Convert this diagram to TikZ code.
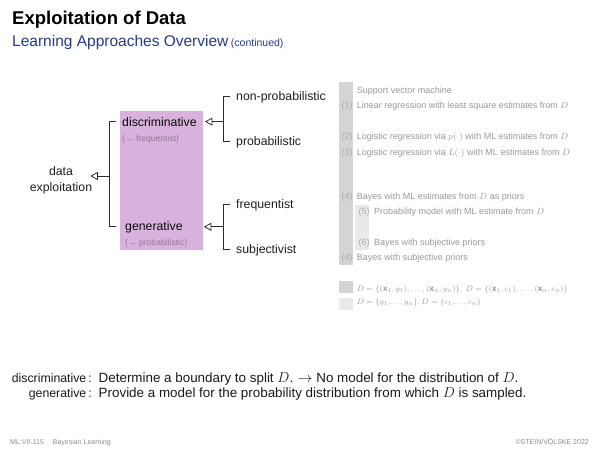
\documentclass[tikz,border=0pt]{standalone}
\usepackage{fontspec}
\setmainfont{Liberation Sans}
\usetikzlibrary{arrows.meta}
\definecolor{titleblue}{RGB}{40,56,138}
\definecolor{boxpurple}{RGB}{216,178,220}
\definecolor{greytext}{RGB}{152,152,152}
\definecolor{numgrey}{RGB}{172,172,172}
\definecolor{bardark}{RGB}{212,212,212}
\definecolor{barlight}{RGB}{233,233,233}
\definecolor{subpurple}{RGB}{150,118,152}
\definecolor{linecol}{RGB}{45,45,45}
\definecolor{foot}{RGB}{140,140,140}
\tikzset{
  lbl/.style={anchor=base west, inner sep=0pt, font=\fontsize{12.3}{14}\selectfont, text=black!88},
  sublbl/.style={anchor=base west, inner sep=0pt, font=\fontsize{8.6}{10}\selectfont, text=subpurple},
  item/.style={anchor=base west, inner sep=0pt, font=\fontsize{9}{10.8}\selectfont, text=greytext},
  legend/.style={anchor=base west, inner sep=0pt, font=\fontsize{8.3}{10}\selectfont, text=greytext},
  num/.style={anchor=base west, inner sep=0pt, font=\fontsize{9}{10.8}\selectfont, text=numgrey},
  conn/.style={draw=linecol, line width=0.8pt},
  tri/.style={conn, -{Triangle[open, length=7.5pt, width=8pt, line width=0.8pt]}},
  bottomlbl/.style={inner sep=0pt, font=\fontsize{12.3}{14}\selectfont, text=black!90},
  bottom/.style={inner sep=0pt, font=\fontsize{13.4}{15}\selectfont, text=black!90},
  footer/.style={inner sep=0pt, font=\fontsize{7}{8.4}\selectfont, text=foot}
}
\begin{document}
\begin{tikzpicture}[x=1pt,y=-1pt]
\useasboundingbox (0,0) rectangle (600,450);
% title
\node[anchor=base west, inner sep=0pt, font=\fontsize{18.5}{22}\selectfont\bfseries] (title) at (12,24) {Exploitation of Data};
\node[anchor=base west, inner sep=0pt, text=titleblue] (subtitle) at (12,46) {{\fontsize{15.5}{18}\selectfont Learning Approaches Overview}\hspace{2.5pt}{\fontsize{10.5}{12}\selectfont (continued)}};
% purple box
\node[fill=boxpurple, inner sep=0pt, minimum width=83.5pt, minimum height=139pt, anchor=north west] (pbox) at (119.3,111) {};
% left part
\node[anchor=base, inner sep=0pt, align=center, font=\fontsize{12.3}{15.6}\selectfont, text=black!88] (data) at (61,191) {data\\exploitation};
\node[lbl, text=black!85!boxpurple!40!black] (disc) at (122,126) {discriminative};
\node[sublbl] (discsub) at (122,141.5) {(→ frequentist)};
\node[lbl, text=black!85!boxpurple!40!black] (gen) at (125,230) {generative};
\node[sublbl] (gensub) at (125,245.5) {(→ probabilistic)};
% right labels
\node[lbl] (np) at (236,100) {non-probabilistic};
\node[lbl] (pr) at (236,145) {probabilistic};
\node[lbl] (fr) at (236,208) {frequentist};
\node[lbl] (sj) at (236,253) {subjectivist};
% bracket coordinates
\coordinate (lx) at (109,0);
\coordinate (rx) at (223,0);
\coordinate (lmid) at (109,176);
% left bracket
\draw[conn, shorten <=6pt, shorten >=9pt] (disc.west) -- (disc.west -| lx) -- (gen.west -| lx) -- (gen.west);
\draw[tri, shorten >=-2pt] (lmid) -- (lmid -| data.east);
% right brackets
\draw[conn, shorten <=6pt, shorten >=6pt] (np.west) -- (np.west -| rx) -- (pr.west -| rx) -- (pr.west);
\draw[conn, shorten <=6pt, shorten >=6pt] (fr.west) -- (fr.west -| rx) -- (sj.west -| rx) -- (sj.west);
\draw[tri, shorten >=8pt] (disc.east -| rx) -- (disc.east);
\draw[tri, shorten >=21pt] (gen.east -| rx) -- (gen.east);
% grey bars
\fill[bardark] (339.3,82.3) rectangle (352.7,265);
\fill[barlight] (355,205) rectangle (369,250);
\fill[bardark] (339.3,281) rectangle (352.7,293);
\fill[barlight] (339.3,298) rectangle (352.7,310);
% list
\node[item] (l0) at (356.7,93) {Support vector machine};
\node[num] (n1) at (341.5,108) {(1)};
\node[item] (l1) at (356.7,108) {Linear regression with least square estimates from $D$};
\node[num] (n2) at (341.5,139.5) {(2)};
\node[item] (l2) at (356.7,139.5) {Logistic regression via $p(\cdot)$ with ML estimates from $D$};
\node[num] (n3) at (341.5,155) {(3)};
\node[item] (l3) at (356.7,155) {Logistic regression via $L(\cdot)$ with ML estimates from $D$};
\node[num] (n4) at (341.5,199) {(4)};
\node[item] (l4) at (356.7,199) {Bayes with ML estimates from $D$ as priors};
\node[num] (n5) at (358.5,214.5) {(5)};
\node[item] (l5) at (374,214.5) {Probability model with ML estimate from $D$};
\node[num] (n6) at (358.5,245) {(6)};
\node[item] (l6) at (374,245) {Bayes with subjective priors};
\node[num] (n7) at (341.5,260.5) {(4)};
\node[item] (l7) at (356.7,260.5) {Bayes with subjective priors};
\node[legend] (lg1) at (356.7,291.5) {$D=\{(\mathbf{x}_1,y_1),\ldots,(\mathbf{x}_n,y_n)\},\ D=\{(\mathbf{x}_1,c_1),\ldots,(\mathbf{x}_n,c_n)\}$};
\node[legend] (lg2) at (356.7,304.5) {$D=\{y_1,\!\ldots\!,y_n\}, D=\{c_1,\!\ldots\!,c_n\}$};
% bottom definitions
\node[bottomlbl, anchor=base east] (bd) at (92,382) {discriminative\,:};
\node[bottom, anchor=base west] (bdt) at (98.5,382) {Determine a boundary to split $D$. $\rightarrow$ No model for the distribution of $D$.};
\node[bottomlbl, anchor=base east] (bg) at (92,397) {generative\,:};
\node[bottom, anchor=base west] (bgt) at (98.5,397) {Provide a model for the probability distribution from which $D$ is sampled.};
% footer
\node[footer, anchor=base west] (f1) at (10,444) {ML:VII-115\hspace{9pt}Bayesian Learning};
\node[footer, anchor=base east] (f2) at (589,444) {©STEIN/VÖLSKE 2022};
\end{tikzpicture}
\end{document}
